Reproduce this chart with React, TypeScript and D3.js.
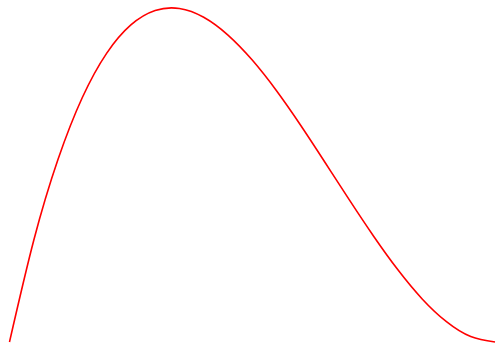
import { useEffect, useRef } from 'react';
import * as d3 from 'd3';

// values
const xValues = [0, 0.05, 0.1, 0.15, 0.2, 0.25, 0.3, 0.35, 0.4, 0.45, 0.5, 0.55, 0.6, 0.65, 0.7, 0.75, 0.8, 0.85, 0.9, 0.95, 1];
const yValues = [0, 0.0451, 0.081, 0.1084, 0.128, 0.1406, 0.147, 0.1479, 0.144, 0.1361, 0.125, 0.1114, 0.096, 0.0796, 0.063, 0.0469, 0.032, 0.0191, 0.009, 0.0024, 0];

export default function App() {
  const svgRef = useRef<SVGSVGElement>(null);

  useEffect(() => {
    if (!svgRef.current) return;
    const svg = d3.select(svgRef.current);
    svg.selectAll('*').remove();

    const x = d3.scaleLinear().domain([0, 1]).range([9.5, 495]);
    const y = d3.scaleLinear().domain([0, 0.1481]).range([342, 8]);

    const data = xValues.map((v, i) => ({ x: v, y: yValues[i] }));

    const line = d3.line<{ x: number; y: number }>()
      .x(d => x(d.x))
      .y(d => y(d.y))
      .curve(d3.curveNatural);

    svg.append('path')
      .datum(data)
      .attr('fill', 'none')
      .attr('stroke', '#ff0000')
      .attr('stroke-width', 1.6)
      .attr('d', line);
  }, []);

  return (
    <svg
      ref={svgRef}
      width={500}
      height={350}
      style={{ position: 'fixed', top: 0, left: 0, background: '#fff' }}
    />
  );
}
